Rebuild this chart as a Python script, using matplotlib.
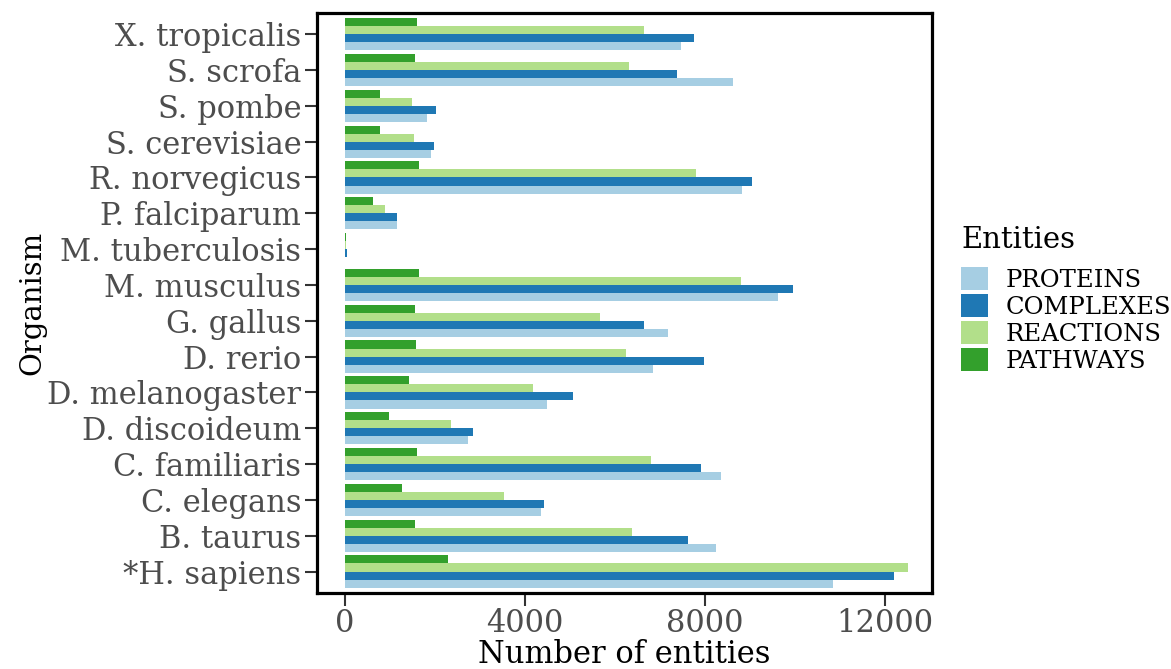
import numpy as np
import matplotlib
matplotlib.use('Agg')
import matplotlib.pyplot as plt
from matplotlib.patches import Patch

# organisms in plotting order (bottom to top)
organisms = ['*H. sapiens', 'B. taurus', 'C. elegans', 'C. familiaris',
             'D. discoideum', 'D. melanogaster', 'D. rerio', 'G. gallus',
             'M. musculus', 'M. tuberculosis', 'P. falciparum', 'R. norvegicus',
             'S. cerevisiae', 'S. pombe', 'S. scrofa', 'X. tropicalis']

proteins = [10843, 8251, 4361, 8362, 2732, 4491, 6843, 7177,
            9630, 15, 1167, 8825, 1926, 1833, 8630, 7464]
complexes = [12205, 7621, 4426, 7917, 2843, 5074, 7982, 6639,
             9964, 50, 1167, 9056, 1972, 2037, 7380, 7760]
reactions = [12510, 6371, 3537, 6815, 2352, 4186, 6241, 5676,
             8806, 35, 898, 7797, 1546, 1500, 6325, 6639]
pathways = [2287, 1565, 1278, 1611, 991, 1417, 1593, 1565,
            1658, 20, 630, 1639, 787, 787, 1565, 1611]

series_names = ['PROTEINS', 'COMPLEXES', 'REACTIONS', 'PATHWAYS']
series_colors = ['#a6cee3', '#1f78b4', '#b2df8a', '#33a02c']
x_ticks = [0, 4000, 8000, 12000]

plt.rcParams['font.family'] = ['DejaVu Serif']

fig = plt.figure(figsize=(11.71, 6.69), dpi=100)
ax = fig.add_axes([0.2704, 0.1136, 0.5255, 0.8674])

y = np.arange(len(organisms))
bar_h = 0.9 / 4
all_series = [proteins, complexes, reactions, pathways]
for i, (vals, col) in enumerate(zip(all_series, series_colors)):
    offset = -0.45 + bar_h * (i + 0.5)
    ax.barh(y + offset, vals, height=bar_h, color=col, linewidth=0)

xmax = max(max(s) for s in all_series)
ax.set_xlim(-0.05 * xmax, 1.043 * xmax)
ax.set_ylim(-0.6, len(organisms) - 0.4)

ax.set_yticks(y)
ax.set_yticklabels(organisms)
ax.set_xticks(x_ticks)
ax.set_xticklabels([str(t) for t in x_ticks])
ax.tick_params(axis='both', labelsize=22, labelcolor='#4d4d4d', color='#333333',
               length=9, width=1.5, direction='out', pad=2)

for sp in ax.spines.values():
    sp.set_linewidth(2.3)
    sp.set_color('black')

ax.set_xlabel('Number of entities', fontsize=22, labelpad=0)
ax.set_ylabel('Organism', fontsize=21, labelpad=1)

# legend (title drawn separately to match spacing)
fig.text(961 / 1171, 1 - 248 / 669, 'Entities', fontsize=21, ha='left', va='baseline')
handles = [Patch(facecolor=c, edgecolor='none', label=n)
           for n, c in zip(series_names, series_colors)]
fig.legend(handles=handles, loc='upper left',
           bbox_to_anchor=(961 / 1171, 1 - 267 / 669), frameon=False,
           fontsize=17.5, handlelength=1.11, handleheight=1.11,
           handletextpad=0.73, labelspacing=0.08, borderaxespad=0, borderpad=0)

fig.savefig('out.png', dpi=100)
